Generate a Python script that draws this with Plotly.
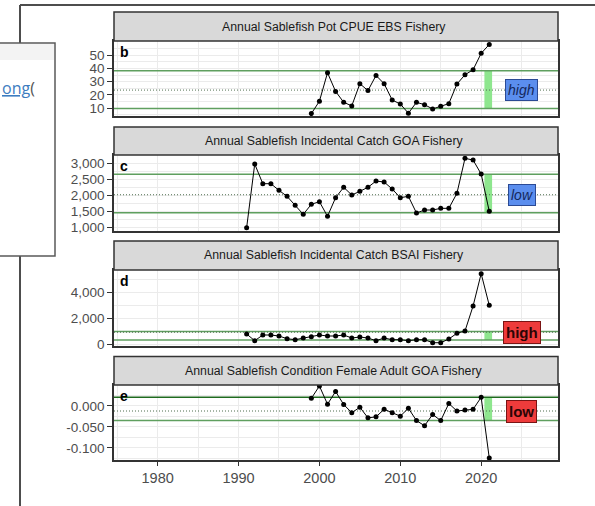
import plotly.graph_objects as go

# ---------------- data ----------------
years_b = list(range(1999, 2022))
cpue_ebs = [6.0, 15.3, 36.7, 22.7, 14.5, 11.8, 28.5, 23.3, 34.7, 28.5, 16.2, 13.2,
            6.3, 14.5, 12.7, 9.5, 11.5, 13.5, 28.2, 35.2, 39.0, 51.3, 58.0]

years_c = list(range(1991, 2022))
catch_goa = [1000, 2990, 2375, 2375, 2167, 1980, 1698, 1417, 1731, 1813, 1356, 1938,
             2263, 2022, 2137, 2263, 2459, 2428, 2209, 1938, 1980, 1459, 1553, 1553,
             1605, 1605, 2073, 3167, 3115, 2678, 1511]

years_d = list(range(1991, 2022))
catch_bsai = [792, 277, 715, 715, 638, 431, 354, 485, 585, 715, 638, 638, 715, 485,
              561, 485, 277, 485, 354, 354, 277, 354, 354, 123, 123, 408, 846, 1023,
              2946, 5433, 3000]

years_e = list(range(1999, 2022))
cond_goa = [0.0178, 0.0471, 0.0039, 0.0341, 0.0032, -0.0163, -0.0033, -0.0285, -0.0261,
            -0.0082, -0.0163, -0.0244, -0.0057, -0.0350, -0.0472, -0.0204, -0.0350,
            0.0056, -0.0122, -0.0098, -0.0082, 0.0203, -0.1236]

panel_titles = ["Annual Sablefish Pot CPUE EBS Fishery",
                "Annual Sablefish Incidental Catch GOA Fishery",
                "Annual Sablefish Incidental Catch BSAI Fishery",
                "Annual Sablefish Condition Female Adult GOA Fishery"]
panel_letters = ["b", "c", "d", "e"]
means = [23.7, 2030, 930, -0.0122]
uppers = [38.2, 2670, 985, 0.0203]
lowers = [9.9, 1465, 330, -0.035]
status_labels = ["high", "low", "high", "low"]
status_kind = ["blue", "blue", "red", "red"]
label_year = 2025
recent_span = [2020.4, 2021.35]

x_range = [1974.6, 2029.5]
x_tick_vals = [1980, 1990, 2000, 2010, 2020]
x_tick_text = ["1980", "1990", "2000", "2010", "2020"]
x_minor_vals = [1975, 1985, 1995, 2005, 2015, 2025]

y_ranges = [[4.2, 60.6], [897, 3272], [-130, 5715], [-0.1285, 0.0495]]
y_tick_vals = [[10, 20, 30, 40, 50], [1000, 1500, 2000, 2500, 3000], [0, 2000, 4000],
               [-0.1, -0.05, 0.0]]
y_tick_text = [["10", "20", "30", "40", "50"],
               ["1,000", "1,500", "2,000", "2,500", "3,000"],
               ["0", "2,000", "4,000"],
               ["-0.100", "-0.050", "0.000"]]
y_minor_vals = [[5, 15, 25, 35, 45, 55], [1250, 1750, 2250, 2750, 3250],
                [1000, 3000, 5000], [-0.125, -0.075, -0.025, 0.025]]

# ---------------- layout geometry (pixels) ----------------
W, H = 595, 506
PX_L, PX_R = 114, 558
panel_px = [(41, 116), (155, 231), (270, 346), (385, 460)]
strip_px = [(12, 41), (127, 155), (241, 270), (356.5, 385)]


def fx(p):
    return p / W


def fy(p):
    return 1 - p / H


FONT = "Liberation Sans, Arial, sans-serif"
GREEN = "#5f9f5f"
fig = go.Figure()
series = [(years_b, cpue_ebs), (years_c, catch_goa), (years_d, catch_bsai), (years_e, cond_goa)]
shapes = []
annotations = []
axes = {}

for i in range(4):
    n = "" if i == 0 else str(i + 1)
    xs, ys = series[i]
    ptop, pbot = panel_px[i]
    bottom = (i == 3)

    # recent-period rectangle (filled trace, above gridlines)
    x0, x1 = recent_span
    fig.add_trace(go.Scatter(x=[x0, x1, x1, x0, x0],
                             y=[lowers[i], lowers[i], uppers[i], uppers[i], lowers[i]],
                             xaxis="x" + n, yaxis="y" + n, mode="lines", fill="toself",
                             fillcolor="#8EE68E", line=dict(width=0, color="#8EE68E"),
                             showlegend=False, hoverinfo="skip"))

    # reference lines (upper / lower / mean)
    up_col = "#1f6b1f" if i == 3 else GREEN
    for val, col, dash, wd in ((uppers[i], up_col, "solid", 1.5),
                               (lowers[i], GREEN, "solid", 1.5),
                               (means[i], "#4f6f4f", "1px,2px", 1)):
        fig.add_trace(go.Scatter(x=x_range, y=[val, val], xaxis="x" + n, yaxis="y" + n,
                                 mode="lines", line=dict(color=col, width=wd, dash=dash),
                                 showlegend=False, hoverinfo="skip"))

    fig.add_trace(go.Scatter(x=xs, y=ys, xaxis="x" + n, yaxis="y" + n,
                             mode="lines+markers",
                             line=dict(color="black", width=1),
                             marker=dict(color="black", size=5),
                             showlegend=False, hoverinfo="skip"))

    axes["xaxis" + n] = dict(
        domain=[fx(PX_L), fx(PX_R)], range=x_range, anchor="y" + n,
        tickmode="array", tickvals=x_tick_vals, ticktext=x_tick_text,
        showticklabels=bottom, ticks="outside" if bottom else "", ticklen=4,
        tickcolor="#333333", tickwidth=1,
        showgrid=True, gridcolor="#EBEBEB", gridwidth=1.4,
        minor=dict(tickmode="array", tickvals=x_minor_vals, showgrid=True,
                   gridcolor="#EBEBEB", gridwidth=0.8, ticks=""),
        zeroline=False, showline=True, linecolor="#333333", linewidth=1.5, mirror=True,
        tickfont=dict(family=FONT, size=14.5, color="#4D4D4D"),
        automargin=False, fixedrange=True)
    axes["yaxis" + n] = dict(
        domain=[fy(pbot), fy(ptop)], range=y_ranges[i], anchor="x" + n,
        tickmode="array", tickvals=y_tick_vals[i], ticktext=y_tick_text[i],
        ticks="outside", ticklen=5, tickcolor="#333333", tickwidth=1,
        showgrid=True, gridcolor="#EBEBEB", gridwidth=1.4,
        minor=dict(tickmode="array", tickvals=y_minor_vals[i], showgrid=True,
                   gridcolor="#EBEBEB", gridwidth=0.8, ticks=""),
        zeroline=False, showline=True, linecolor="#333333", linewidth=1.5, mirror=True,
        tickfont=dict(family=FONT, size=13.5, color="#4D4D4D"),
        automargin=False, fixedrange=True)

    # strip
    s0, s1 = strip_px[i]
    shapes.append(dict(type="rect", xref="paper", yref="paper",
                       x0=fx(PX_L), x1=fx(PX_R), y0=fy(s1), y1=fy(s0),
                       fillcolor="#D9D9D9", line=dict(color="#333333", width=1.5),
                       layer="above"))
    annotations.append(dict(xref="paper", yref="paper", x=fx((PX_L + PX_R) / 2 - 2),
                            y=fy((s0 + s1) / 2), text=panel_titles[i], showarrow=False,
                            xanchor="center", yanchor="middle",
                            font=dict(family=FONT, size=12.3, color="#1A1A1A")))
    # panel letter
    annotations.append(dict(xref="paper", yref="paper", x=fx(PX_L + 4), y=fy(ptop),
                            text="<b>" + panel_letters[i] + "</b>", showarrow=False,
                            xanchor="left", yanchor="top", yshift=-1,
                            font=dict(family=FONT, size=14, color="black")))
    # status label
    if status_kind[i] == "blue":
        annotations.append(dict(xref="x" + n, yref="y" + n, x=label_year, y=means[i],
                                text="<i>" + status_labels[i] + "</i>", showarrow=False,
                                bgcolor="#5B8EEE", bordercolor="#2B4A94", borderwidth=1,
                                borderpad=2,
                                font=dict(family=FONT, size=14, color="#14285C")))
    else:
        annotations.append(dict(xref="x" + n, yref="y" + n, x=label_year, y=means[i],
                                text="<b>" + status_labels[i] + "</b>", showarrow=False,
                                bgcolor="#EE3B3B", bordercolor="#7A1414", borderwidth=1,
                                borderpad=2,
                                font=dict(family=FONT, size=15, color="#2A0505")))

# ---------------- surrounding window frame (screenshot context) ----------------
frame = [
    dict(type="line", xref="paper", yref="paper", x0=fx(20), x1=1.0, y0=fy(5), y1=fy(5),
         line=dict(color="#4D4D4D", width=2), layer="above"),
    dict(type="line", xref="paper", yref="paper", x0=fx(20), x1=fx(20), y0=fy(5), y1=0,
         line=dict(color="#4D4D4D", width=2), layer="above"),
    dict(type="rect", xref="paper", yref="paper", x0=fx(-5), x1=fx(55), y0=fy(256), y1=fy(43),
         fillcolor="white", line=dict(color="#5A5A5A", width=1.5), layer="above"),
    dict(type="rect", xref="paper", yref="paper", x0=0, x1=fx(54), y0=fy(60), y1=fy(44),
         fillcolor="#F3F3F3", line=dict(width=0), layer="above"),
]
shapes = frame + shapes
annotations.append(dict(xref="paper", yref="paper", x=0, y=fy(88), xanchor="left",
                        yanchor="middle", showarrow=False,
                        text="<span style='color:#3D7CC0'><u>ong</u></span>(",
                        font=dict(family="Open Sans, sans-serif", size=16, color="#555555")))

fig.update_layout(width=W, height=H, autosize=False,
                  margin=dict(l=0, r=0, t=0, b=0),
                  paper_bgcolor="white", plot_bgcolor="white",
                  shapes=shapes, annotations=annotations, **axes)

fig.write_html("out.html")
